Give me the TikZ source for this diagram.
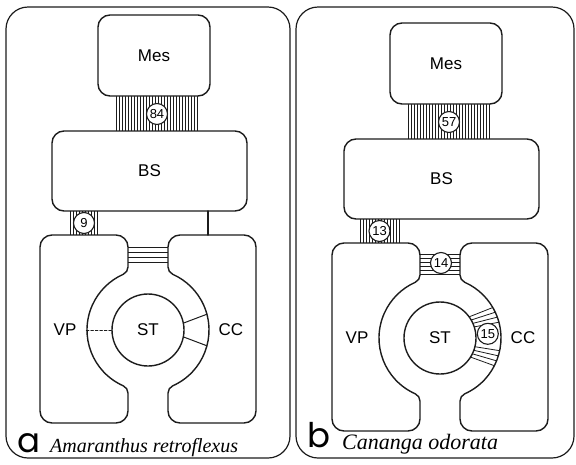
\documentclass[tikz,border=0pt]{standalone}
\usepackage{fontspec}
\setmainfont{Liberation Serif}
\setsansfont{Liberation Sans}
\newfontfamily\tagfont{Poppins}
\usetikzlibrary{positioning,calc}
\definecolor{inkMain}{HTML}{1C1C1C}

\begin{document}
\begin{tikzpicture}[
    x=1pt, y=-1pt,
    font=\sffamily\fontsize{17}{20}\selectfont,
    panel/.style={draw=inkMain, line width=1.2pt, rounded corners=22pt},
    cellBox/.style={
        rectangle, rounded corners=12pt,
        draw=inkMain, line width=1.4pt,
        fill=white, inner sep=0pt
    },
    sieveNode/.style={circle, draw=inkMain, line width=1.4pt, minimum size=72pt, inner sep=0pt},
    wall/.style={draw=inkMain, line width=1.4pt, line cap=round},
    pitLine/.style={draw=inkMain, line width=0.8pt},
    pitCount/.style={
        circle, draw=inkMain, line width=1.1pt, fill=white,
        minimum size=21pt, inner sep=0pt,
        font=\sffamily\fontsize{13}{13}\selectfont
    },
    tag/.style={font=\tagfont\fontsize{34}{34}\selectfont, anchor=base west, inner sep=0pt},
    species/.style={font=\rmfamily\itshape\fontsize{20}{20}\selectfont, anchor=base west, inner sep=0pt}
]

\useasboundingbox (0,0) rectangle (576,464);

\draw[panel] (6,7) rectangle (290,458);
\draw[panel] (296,7) rectangle (574,458);

% both panels share one cell layout; b sits a little right and down
\foreach \p/\dx/\dy/\cnt in {a/0/0/84, b/292/8/57} {
  \begin{scope}[shift={(\dx,\dy)}]
    \foreach \x in {116,119,...,197} \draw[pitLine] (\x,96) -- (\x,131);
    \node[cellBox, minimum width=112pt, minimum height=81pt] (Mes-\p) at (154,55.5) {Mes};
    \node[cellBox, minimum width=195pt, minimum height=80pt] (BS-\p) at (149.5,171) {BS};
    \node[pitCount] (Link-\p) at (157,114) {\cnt};

    \draw[wall] (128,393.1) arc[start angle=0, end angle=-66.05, radius=8]
      arc[start angle=113.95, end angle=246.05, radius=61]
      arc[start angle=66.05, end angle=0, radius=8]
      [rounded corners=12pt] -- (128,235) -- (40,235) -- (40,423) -- (128,423) -- (128,393.1);
    \draw[wall] (168,393.1) arc[start angle=180, end angle=246.05, radius=8]
      arc[start angle=66.05, end angle=-66.05, radius=61]
      arc[start angle=113.95, end angle=180, radius=8]
      [rounded corners=12pt] -- (168,235) -- (256,235) -- (256,423) -- (168,423) -- (168,393.1);

    \node[sieveNode] (ST-\p) at (148,330) {ST};
    \node (VP-\p) at (65,330) {VP};
    \node (CC-\p) at (231,330) {CC};
  \end{scope}
}

% panel a
\foreach \y in {247,252,257,262} \draw[pitLine] (128,\y) -- (168,\y);
\foreach \x in {70,73,...,98} \draw[pitLine] (\x,211) -- (\x,235);
\node[pitCount] (Pit-9) at (84,223) {9};
\draw[wall] (208,211) -- (208,235);
\draw[wall, line width=1pt, dash pattern=on 2.5pt off 2pt] (ST-a.west) -- ++(-25,0);
\draw[wall, line width=1pt] ($(ST-a)+(-11:36)$) -- ($(ST-a)+(-15:61)$);
\draw[wall, line width=1pt] ($(ST-a)+(11:36)$) -- ($(ST-a)+(15:61)$);
\node[tag] (Tag-a) at (17,452) {a};
\node[species] (Name-a) at (50,452) {Amaranthus retroflexus};

% panel b
\begin{scope}[shift={(292,8)}]
  \foreach \y in {246,250,...,266} \draw[pitLine] (128,\y) -- (168,\y);
  \foreach \x in {68,71,...,107} \draw[pitLine] (\x,211) -- (\x,235);
\end{scope}
\node[pitCount] (Pit-14) at (441,263) {14};
\node[pitCount] (Pit-13) at (379.5,231) {13};
\foreach \a/\b in {-18/-15,-24/-20,-30/-25,-36/-30,14/12,20/17,26/22,32/27}
  \draw[pitLine] ($(ST-b)+(\a:36)$) -- ($(ST-b)+(\b:61)$);
\node[pitCount] (Pit-15) at ($(ST-b)+(-5:48)$) {15};
\node[tag] (Tag-b) at (307,447) {b};
\node[species, font=\rmfamily\itshape\fontsize{22}{22}\selectfont] (Name-b) at (342,449) {Cananga odorata};

\end{tikzpicture}
\end{document}
